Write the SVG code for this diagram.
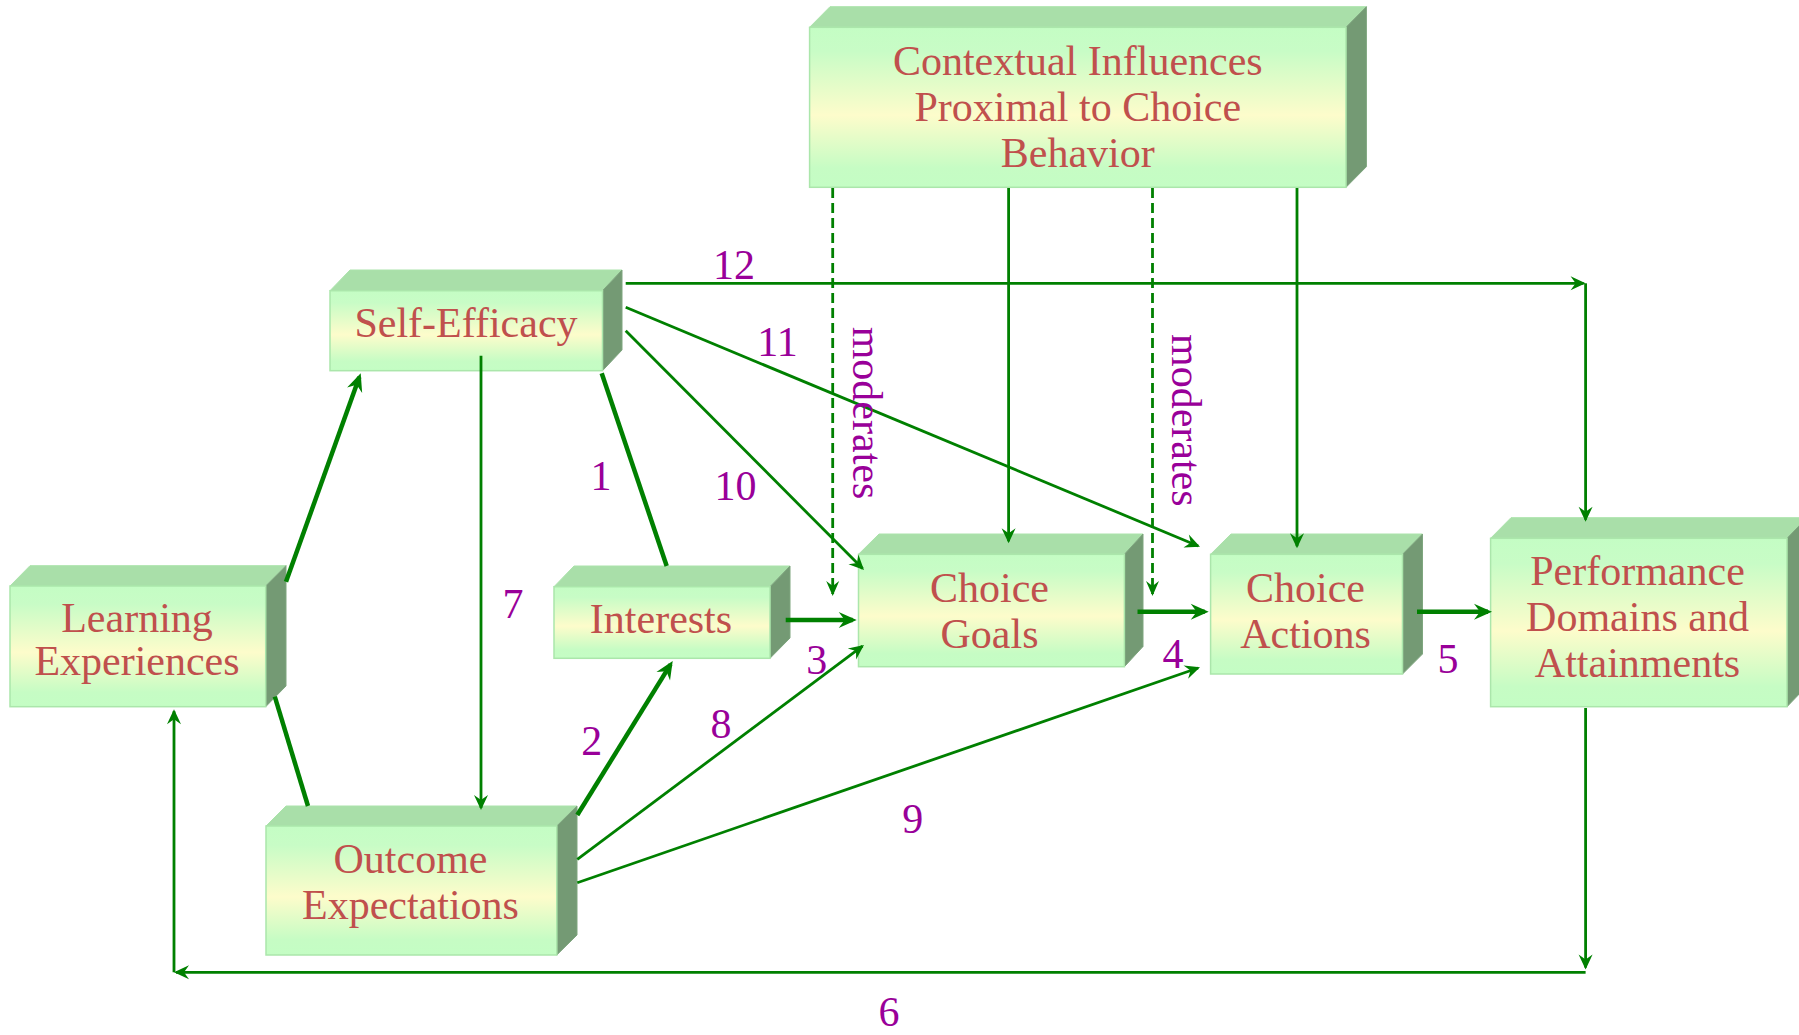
<svg xmlns="http://www.w3.org/2000/svg" width="1799" height="1035" viewBox="0 0 1799 1035">
<defs>
  <linearGradient id="gFront" x1="0" y1="0" x2="0" y2="1">
    <stop offset="0" stop-color="#c4fdc4"/>
    <stop offset="0.15" stop-color="#c8fcc6"/>
    <stop offset="0.55" stop-color="#fdfccb"/>
    <stop offset="0.88" stop-color="#c6fcc4"/>
    <stop offset="1" stop-color="#c4fdc4"/>
  </linearGradient>
  <marker id="ah" markerUnits="userSpaceOnUse" viewBox="-17 -8 20 16" refX="-2" refY="0" markerWidth="20" markerHeight="16" orient="auto" overflow="visible">
    <path d="M0,0 L-15,-7 L-10,0 L-15,7 Z" fill="#008000"/>
  </marker>
  <marker id="ahb" markerUnits="userSpaceOnUse" viewBox="-22 -9 26 18" refX="-4" refY="0" markerWidth="26" markerHeight="18" orient="auto" overflow="visible">
    <path d="M0,0 L-18,-8 L-12,0 L-18,8 Z" fill="#008000"/>
  </marker>
  <marker id="ahs" markerUnits="userSpaceOnUse" viewBox="-17 -8 20 16" refX="-2" refY="0" markerWidth="20" markerHeight="16" orient="auto" overflow="visible">
    <path d="M0,0 L-15,-6.5 L-10,0 L-15,6.5 Z" fill="#008000"/>
  </marker>
</defs>
<style>
  .front { fill: url(#gFront); stroke: #abe6ab; stroke-width: 1.5; }
  .top { fill: #a9dfa9; stroke: #abe3ab; stroke-width: 1; }
  .side { fill: #749a74; stroke: #7fa67f; stroke-width: 1; }
  .nt { font-family: "Liberation Serif", "Times New Roman", serif; fill: #c0504d; text-anchor: middle; font-size: 42px; }
  .lb { font-family: "Liberation Serif", "Times New Roman", serif; fill: #990099; text-anchor: middle; font-size: 42px; }
  .mod { font-family: "Liberation Serif", "Times New Roman", serif; fill: #990099; font-size: 42px; }
  .thin { stroke: #008000; stroke-width: 2.8; fill: none; marker-end: url(#ah); }
  .thick { stroke: #008000; stroke-width: 4.5; fill: none; }
  .thicka { stroke: #008000; stroke-width: 4.5; fill: none; marker-end: url(#ahb); }
  .dash { stroke: #008000; stroke-width: 2.8; fill: none; stroke-dasharray: 10 5; marker-end: url(#ahs); }
</style>
<rect width="1799" height="1035" fill="#ffffff"/>

<g id="node-contextual">
  <polygon class="top" points="809.6,27.3 830,6.7 1366.4,6.7 1346,27.3"/>
  <polygon class="side" points="1346,27.3 1366.4,6.7 1366.4,166.7 1346,187.3"/>
  <rect class="front" x="809.6" y="27.3" width="536.4" height="160"/>
  <text class="nt" x="1077.8" y="75" font-size="43.8">Contextual Influences</text>
  <text class="nt" x="1077.8" y="120.7" font-size="43.8">Proximal to Choice</text>
  <text class="nt" x="1077.8" y="166.7" font-size="43.8">Behavior</text>
</g>

<g id="node-self-efficacy">
  <polygon class="top" points="330,290.7 350,270 622,270 602.5,290.7"/>
  <polygon class="side" points="602.5,290.7 622,270 622,350 602.5,370.7"/>
  <rect class="front" x="330" y="290.7" width="272.5" height="80"/>
  <text class="nt" x="466" y="336.7" font-size="38.3">Self-Efficacy</text>
</g>

<g id="node-learning">
  <polygon class="top" points="10,586 30,565.7 286,565.7 265.7,586"/>
  <polygon class="side" points="265.7,586 286,565.7 286,686 265.7,706.7"/>
  <rect class="front" x="10" y="586" width="255.7" height="120.7"/>
  <text class="nt" x="137" y="631.7" font-size="38.2">Learning</text>
  <text class="nt" x="137" y="675" font-size="38.2">Experiences</text>
</g>

<g id="node-interests">
  <polygon class="top" points="554,586.7 574,566 790,566 770,586.7"/>
  <polygon class="side" points="770,586.7 790,566 790,638 770,658.3"/>
  <rect class="front" x="554" y="586.7" width="216" height="71.6"/>
  <text class="nt" x="661" y="633.3">Interests</text>
</g>

<g id="node-outcome">
  <polygon class="top" points="266,826 286,806 577,806 556.8,826"/>
  <polygon class="side" points="556.8,826 577,806 577,935 556.8,955"/>
  <rect class="front" x="266" y="826" width="290.8" height="129"/>
  <text class="nt" x="410.5" y="873.3">Outcome</text>
  <text class="nt" x="410.5" y="919.3">Expectations</text>
</g>

<g id="node-choice-goals">
  <polygon class="top" points="858.5,554.3 879,534 1143,534 1124.4,554.3"/>
  <polygon class="side" points="1124.4,554.3 1143,534 1143,646.5 1124.4,666.7"/>
  <rect class="front" x="858.5" y="554.3" width="265.9" height="112.4"/>
  <text class="nt" x="989.5" y="601.7">Choice</text>
  <text class="nt" x="989.5" y="647.7">Goals</text>
</g>

<g id="node-choice-actions">
  <polygon class="top" points="1210.6,554.3 1231,534 1422.5,534 1402.5,554.3"/>
  <polygon class="side" points="1402.5,554.3 1422.5,534 1422.5,654 1402.5,674"/>
  <rect class="front" x="1210.6" y="554.3" width="191.9" height="119.7"/>
  <text class="nt" x="1305.5" y="601.7">Choice</text>
  <text class="nt" x="1305.5" y="647.7">Actions</text>
</g>

<g id="node-performance">
  <polygon class="top" points="1490.6,538.3 1511,517.7 1807,517.7 1787,538.3"/>
  <polygon class="side" points="1787,538.3 1807,517.7 1807,686 1787,706.7"/>
  <rect class="front" x="1490.6" y="538.3" width="296.4" height="168.4"/>
  <text class="nt" x="1637.5" y="585">Performance</text>
  <text class="nt" x="1637.5" y="630.7">Domains and</text>
  <text class="nt" x="1637.5" y="676.7">Attainments</text>
</g>

<g id="connectors">
  <line class="thicka" x1="286" y1="581.7" x2="359.35" y2="377.1"/>
  <line class="thick" x1="274.8" y1="696.7" x2="308" y2="806"/>
  <line class="thick" x1="601.7" y1="373.3" x2="666.7" y2="566"/>
  <line class="thicka" x1="577.3" y1="815" x2="670.6" y2="664.4"/>
  <line class="thicka" x1="785.7" y1="620" x2="852.7" y2="620"/>
  <line class="thicka" x1="1137.5" y1="611.7" x2="1204.7" y2="611.7"/>
  <line class="thicka" x1="1417" y1="611.7" x2="1488" y2="611.7"/>

  <line class="thin" x1="481" y1="355.7" x2="481" y2="808"/>
  <line class="thin" x1="577.3" y1="859.3" x2="862.4" y2="646.2"/>
  <line class="thin" x1="577.3" y1="882.7" x2="1198.1" y2="667.95"/>
  <line class="thin" x1="625.7" y1="330.7" x2="862.6" y2="568.6"/>
  <line class="thin" x1="625.7" y1="307.3" x2="1198.15" y2="545.93"/>
  <line class="thin" x1="625.7" y1="283.3" x2="1583.6" y2="283.3"/>
  <line class="thin" x1="1585.6" y1="283.3" x2="1585.6" y2="519.7"/>
  <line class="thin" x1="1585.6" y1="708" x2="1585.6" y2="967.5"/>
  <line class="thin" x1="1585.6" y1="972.3" x2="176" y2="972.3"/>
  <line class="thin" x1="174" y1="972.3" x2="174" y2="711.3"/>
  <line class="thin" x1="1008.6" y1="188" x2="1008.6" y2="541.3"/>
  <line class="thin" x1="1297" y1="188" x2="1297" y2="546.3"/>
  <line class="dash" x1="832.7" y1="188" x2="832.7" y2="594"/>
  <line class="dash" x1="1152.5" y1="188" x2="1152.5" y2="594"/>
</g>

<g id="labels">
  <text class="lb" x="601" y="490">1</text>
  <text class="lb" x="591.7" y="755">2</text>
  <text class="lb" x="816.7" y="674">3</text>
  <text class="lb" x="1173" y="668">4</text>
  <text class="lb" x="1448" y="673">5</text>
  <text class="lb" x="889" y="1026">6</text>
  <text class="lb" x="513" y="618">7</text>
  <text class="lb" x="721" y="738">8</text>
  <text class="lb" x="912.7" y="833.3">9</text>
  <text class="lb" x="735.5" y="500">10</text>
  <text class="lb" x="777.5" y="356">11</text>
  <text class="lb" x="734" y="279">12</text>
  <text class="mod" transform="translate(853,326.7) rotate(90)">moderates</text>
  <text class="mod" transform="translate(1171.5,334) rotate(90)">moderates</text>
</g>
</svg>
